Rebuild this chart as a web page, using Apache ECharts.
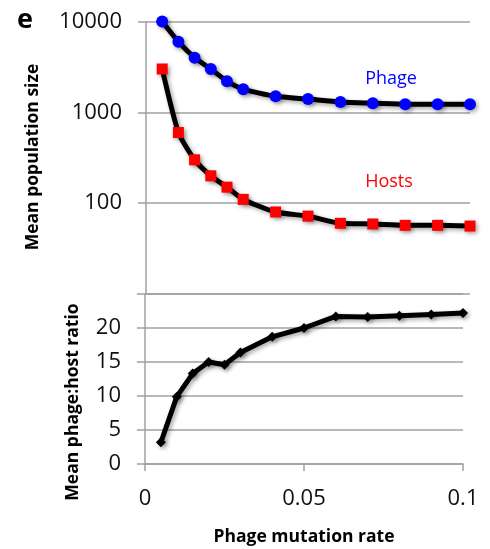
<!DOCTYPE html>
<html><head><meta charset="utf-8">
<script src="https://cdn.jsdelivr.net/npm/echarts@6/dist/echarts.min.js"></script>
<style>html,body{margin:0;padding:0;background:#fff}#c{width:490px;height:549px}</style>
</head><body><div id="c"></div>
<script>
const mutationRate = [0.005,0.01,0.015,0.02,0.025,0.03,0.04,0.05,0.06,0.07,0.08,0.09,0.1];
const phage = [10000,6000,4000,3000,2200,1800,1500,1400,1300,1260,1230,1230,1230];
const hosts = [3000,600,300,200,150,110,80,72,60,59,57,57,56];
const ratio = [3.2,9.9,13.3,15,14.6,16.4,18.7,20,21.7,21.6,21.8,22,22.2];
const xTicks = [0,0.05,0.1];
const topTickLabels = {10:'',100:'100',1000:'1000',10000:'10000'};

const FONT = 'Open Sans';
const GRID = '#a0a0a0';
const shadow = {shadowColor:'rgba(0,0,0,0.35)',shadowBlur:4,shadowOffsetX:2,shadowOffsetY:2};
const pair = (xs, ys) => xs.map((x,i)=>[x, ys[i]]);

const chart = echarts.init(document.getElementById('c'));
chart.setOption({
  animation:false,
  backgroundColor:'#fff',
  grid:[
    {left:146, right:20, top:21.5, height:272.5},
    {left:145, right:27, top:294, height:170}
  ],
  xAxis:[
    {gridIndex:0, type:'value', min:0, max:0.1, show:false},
    {gridIndex:1, type:'value', min:0, max:0.1, interval:0.05,
     axisLine:{show:true, lineStyle:{color:GRID, width:1.5}},
     axisTick:{show:true, length:7, lineStyle:{color:GRID, width:1.5}},
     splitLine:{show:false},
     axisLabel:{margin:24, fontFamily:FONT, fontSize:22, color:'#111',
       formatter:v=> (xTicks.indexOf(+v.toFixed(3))>=0 ? String(+v.toFixed(3)) : '')}}
  ],
  yAxis:[
    {gridIndex:0, type:'log', logBase:10, min:10, max:10000,
     axisLine:{show:true, lineStyle:{color:GRID, width:1.5}},
     axisTick:{show:true, length:8, lineStyle:{color:GRID, width:1.5}},
     splitLine:{show:true, lineStyle:{color:GRID, width:1.5}},
     axisLabel:{margin:24, fontFamily:FONT, fontSize:22, color:'#111',
       formatter:v=> topTickLabels[Math.round(v)] ?? ''}},
    {gridIndex:1, type:'value', min:0, max:25, interval:5,
     axisLine:{show:true, lineStyle:{color:GRID, width:1.5}},
     axisTick:{show:true, length:8, lineStyle:{color:GRID, width:1.5}},
     splitLine:{show:true, lineStyle:{color:GRID, width:1.5}},
     axisLabel:{margin:24, fontFamily:FONT, fontSize:22, color:'#111',
       formatter:v=> v===25 ? '' : String(v)}}
  ],
  series:[
    {name:'Phage', type:'line', xAxisIndex:0, yAxisIndex:0, data:pair(mutationRate, phage),
     smooth:0.2, symbol:'circle', symbolSize:12,
     lineStyle:Object.assign({color:'#000', width:5}, shadow),
     itemStyle:Object.assign({color:'#0000ff', borderWidth:0}, shadow), z:3},
    {name:'Hosts', type:'line', xAxisIndex:0, yAxisIndex:0, data:pair(mutationRate, hosts),
     smooth:0.2, symbol:'rect', symbolSize:11,
     lineStyle:Object.assign({color:'#000', width:5}, shadow),
     itemStyle:Object.assign({color:'#ff0000', borderWidth:0}, shadow), z:3},
    {name:'Ratio', type:'line', xAxisIndex:1, yAxisIndex:1, data:pair(mutationRate, ratio),
     symbol:'diamond', symbolSize:10,
     lineStyle:Object.assign({color:'#000', width:5}, shadow),
     itemStyle:Object.assign({color:'#000', borderWidth:0}, shadow), z:3}
  ],
  graphic:[
    {type:'text', left:17, top:7, style:{text:'e', font:'bold 27px "Open Sans"', fill:'#000'}},
    {type:'text', x:33, y:157, rotation:Math.PI/2, style:{text:'Mean population size', font:'bold 17.5px "Open Sans"', fill:'#000', align:'center', verticalAlign:'middle'}},
    {type:'text', x:73, y:402, rotation:Math.PI/2, style:{text:'Mean phage:host ratio', font:'bold 17.5px "Open Sans"', fill:'#000', align:'center', verticalAlign:'middle'}},
    {type:'text', x:304, y:537, style:{text:'Phage mutation rate', font:'bold 17.5px "Open Sans"', fill:'#000', align:'center', verticalAlign:'middle'}},
    {type:'text', x:391, y:79, style:{text:'Phage', font:'18px "Open Sans"', fill:'#0000ff', align:'center', verticalAlign:'middle'}},
    {type:'text', x:389, y:182, style:{text:'Hosts', font:'18px "Open Sans"', fill:'#ff0000', align:'center', verticalAlign:'middle'}}
  ]
});
</script></body></html>
